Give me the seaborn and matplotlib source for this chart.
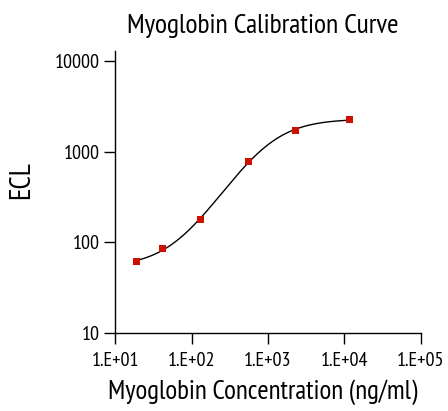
import numpy as np
import matplotlib
matplotlib.use("Agg")
import matplotlib.pyplot as plt
import seaborn as sns

# data
conc = [18.8, 41.3, 130, 553, 2285, 11670]
ecl = [61.5, 85, 177, 783, 1722, 2280]
xtick_vals = [1e1, 1e2, 1e3, 1e4, 1e5]
xtick_labels = ["1.E+01", "1.E+02", "1.E+03", "1.E+04", "1.E+05"]
ytick_vals = [10, 100, 1000, 10000]
ytick_labels = ["10", "100", "1000", "10000"]

sns.set_style("ticks")
plt.rcParams["font.family"] = ["PT Sans Narrow", "DejaVu Sans"]
plt.rcParams["text.color"] = "black"
plt.rcParams["axes.labelcolor"] = "black"

# 4PL fit: grid over slope and midpoint, linear solve for bottom/top
x = np.array(conc, dtype=float)
y = np.array(ecl, dtype=float)
best = None
for b in np.linspace(0.5, 3.0, 126):
    for lc in np.linspace(1.5, 4.0, 251):
        f = 1.0 / (1.0 + (x / 10**lc) ** b)
        M = np.column_stack([f, 1 - f]) / y[:, None]
        coef, *_ = np.linalg.lstsq(M, np.ones_like(y), rcond=None)
        r = np.sum((M @ coef - 1) ** 2)
        if best is None or r < best[0]:
            best = (r, b, lc, coef)
_, b, lc, (a, d) = best
xs = np.logspace(np.log10(x.min()), np.log10(x.max()), 200)
ys = d + (a - d) / (1.0 + (xs / 10**lc) ** b)

fig = plt.figure(figsize=(4.48, 4.11), dpi=100)
ax = fig.add_axes([0.2574, 0.1905, 0.6816, 0.6855])

sns.lineplot(x=xs, y=ys, ax=ax, color="black", linewidth=1.0)
sns.scatterplot(x=conc, y=ecl, ax=ax, marker="s", s=28, color="#cc1100",
                edgecolor="none", zorder=3)

ax.set_xscale("log")
ax.set_yscale("log")
ax.set_xlim(1e1, 1e5)
ax.set_ylim(10, 13000)
ax.set_xticks(xtick_vals)
ax.set_xticklabels(xtick_labels)
ax.set_yticks(ytick_vals)
ax.set_yticklabels(ytick_labels)
ax.minorticks_off()
ax.tick_params(axis="both", length=8, width=1.0, labelsize=14.5, color="black",
               labelcolor="black")
ax.tick_params(axis="x", pad=6)
ax.tick_params(axis="y", pad=3.5)
for s in ["left", "bottom"]:
    ax.spines[s].set_linewidth(1.0)
    ax.spines[s].set_color("black")
sns.despine(ax=ax)

ax.set_title("Myoglobin Calibration Curve", fontsize=20, x=0.482, y=1.064, pad=0)
ax.set_xlabel("Myoglobin Concentration (ng/ml)", fontsize=19.5)
ax.xaxis.set_label_coords(0.482, -0.165)
ax.set_ylabel("ECL", fontsize=21)
ax.yaxis.set_label_coords(-0.263, 0.542)

fig.savefig("out.png", dpi=100)
